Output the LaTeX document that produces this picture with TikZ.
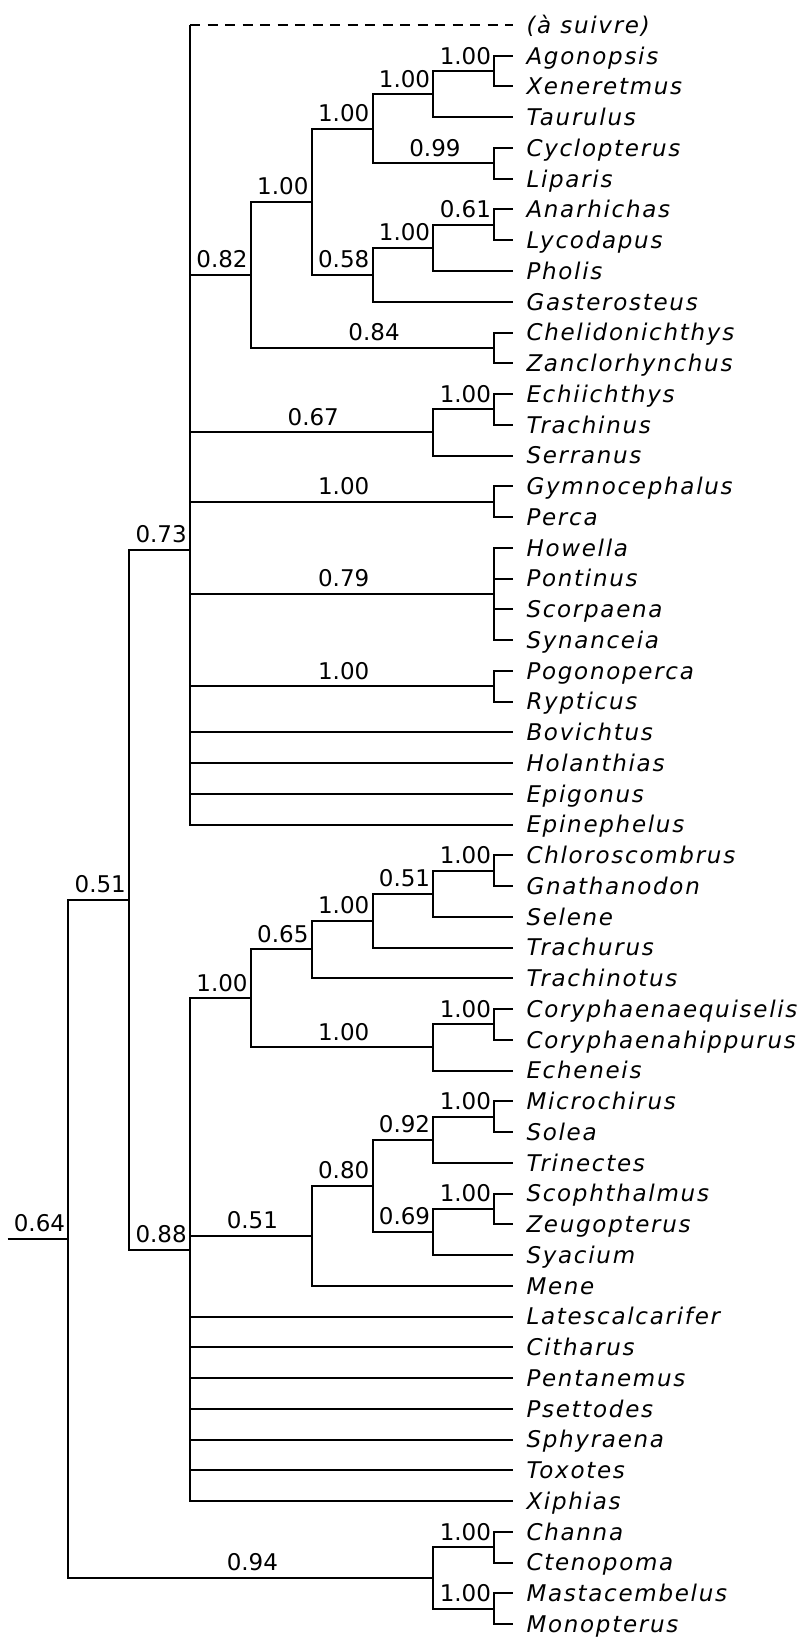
\documentclass[tikz,border=0pt]{standalone}
\usepackage{fontspec}
\setmainfont{DejaVu Sans}
\newfontfamily\leaffont[LetterSpace=7.5]{DejaVu Sans Oblique}
\newfontfamily\lblfont{DejaVu Sans}
\begin{document}
\begin{tikzpicture}[x=60.85pt, y=-30.75pt, line width=2pt,
  leaf/.style={anchor=west, inner xsep=12.5pt, inner ysep=0pt, text height=16.8pt, text depth=0pt,
    font=\leaffont\fontsize{23}{27}\selectfont},
  lbl/.style={anchor=base, inner sep=0pt, yshift=7pt, xshift=1.5pt,
    font=\lblfont\fontsize{23}{27}\selectfont},
  follow/.style={dash pattern=on 10pt off 7.5pt}]
\useasboundingbox (0pt,-5.75pt) rectangle (808pt,-1642.75pt);
\begin{scope}[xshift=7.5pt]
\def\tip{8.3073}
% leaves
\node[leaf] (suivre) at (\tip,1) {(à suivre)};
\node[leaf] (agonopsis) at (\tip,2) {Agonopsis};
\node[leaf] (xeneretmus) at (\tip,3) {Xeneretmus};
\node[leaf] (taurulus) at (\tip,4) {Taurulus};
\node[leaf] (cyclopterus) at (\tip,5) {Cyclopterus};
\node[leaf] (liparis) at (\tip,6) {Liparis};
\node[leaf] (anarhichas) at (\tip,7) {Anarhichas};
\node[leaf] (lycodapus) at (\tip,8) {Lycodapus};
\node[leaf] (pholis) at (\tip,9) {Pholis};
\node[leaf] (gasterosteus) at (\tip,10) {Gasterosteus};
\node[leaf] (chelidonichthys) at (\tip,11) {Chelidonichthys};
\node[leaf] (zanclorhynchus) at (\tip,12) {Zanclorhynchus};
\node[leaf] (echiichthys) at (\tip,13) {Echiichthys};
\node[leaf] (trachinus) at (\tip,14) {Trachinus};
\node[leaf] (serranus) at (\tip,15) {Serranus};
\node[leaf] (gymnocephalus) at (\tip,16) {Gymnocephalus};
\node[leaf] (perca) at (\tip,17) {Perca};
\node[leaf] (howella) at (\tip,18) {Howella};
\node[leaf] (pontinus) at (\tip,19) {Pontinus};
\node[leaf] (scorpaena) at (\tip,20) {Scorpaena};
\node[leaf] (synanceia) at (\tip,21) {Synanceia};
\node[leaf] (pogonoperca) at (\tip,22) {Pogonoperca};
\node[leaf] (rypticus) at (\tip,23) {Rypticus};
\node[leaf] (bovichtus) at (\tip,24) {Bovichtus};
\node[leaf] (holanthias) at (\tip,25) {Holanthias};
\node[leaf] (epigonus) at (\tip,26) {Epigonus};
\node[leaf] (epinephelus) at (\tip,27) {Epinephelus};
\node[leaf] (chloroscombrus) at (\tip,28) {Chloroscombrus};
\node[leaf] (gnathanodon) at (\tip,29) {Gnathanodon};
\node[leaf] (selene) at (\tip,30) {Selene};
\node[leaf] (trachurus) at (\tip,31) {Trachurus};
\node[leaf] (trachinotus) at (\tip,32) {Trachinotus};
\node[leaf] (coryeq) at (\tip,33) {Coryphaenaequiselis};
\node[leaf] (coryhi) at (\tip,34) {Coryphaenahippurus};
\node[leaf] (echeneis) at (\tip,35) {Echeneis};
\node[leaf] (microchirus) at (\tip,36) {Microchirus};
\node[leaf] (solea) at (\tip,37) {Solea};
\node[leaf] (trinectes) at (\tip,38) {Trinectes};
\node[leaf] (scophthalmus) at (\tip,39) {Scophthalmus};
\node[leaf] (zeugopterus) at (\tip,40) {Zeugopterus};
\node[leaf] (syacium) at (\tip,41) {Syacium};
\node[leaf] (mene) at (\tip,42) {Mene};
\node[leaf] (latescalcarifer) at (\tip,43) {Latescalcarifer};
\node[leaf] (citharus) at (\tip,44) {Citharus};
\node[leaf] (pentanemus) at (\tip,45) {Pentanemus};
\node[leaf] (psettodes) at (\tip,46) {Psettodes};
\node[leaf] (sphyraena) at (\tip,47) {Sphyraena};
\node[leaf] (toxotes) at (\tip,48) {Toxotes};
\node[leaf] (xiphias) at (\tip,49) {Xiphias};
\node[leaf] (channa) at (\tip,50) {Channa};
\node[leaf] (ctenopoma) at (\tip,51) {Ctenopoma};
\node[leaf] (mastacembelus) at (\tip,52) {Mastacembelus};
\node[leaf] (monopterus) at (\tip,53) {Monopterus};
% internal nodes
\coordinate (root0) at (0,40.47265625);
\coordinate (n064) at (1,40.47265625);
\coordinate (n051) at (2,29.4453125);
\coordinate (n073) at (3,18.0625);
\coordinate (n082) at (4,9.125);
\coordinate (n100a) at (5,6.75);
\coordinate (n100b) at (6,4.375);
\coordinate (n100c) at (7,3.25);
\coordinate (n100d) at (8,2.5);
\coordinate (n099) at (8,5.5);
\coordinate (n058) at (6,9.125);
\coordinate (n100e) at (7,8.25);
\coordinate (n061) at (8,7.5);
\coordinate (n084) at (8,11.5);
\coordinate (n067) at (7,14.25);
\coordinate (n100f) at (8,13.5);
\coordinate (n100g) at (8,16.5);
\coordinate (n079) at (8,19.5);
\coordinate (n100h) at (8,22.5);
\coordinate (n088) at (3,40.828125);
\coordinate (n100i) at (4,32.65625);
\coordinate (n065) at (5,31.0625);
\coordinate (n100j) at (6,30.125);
\coordinate (n051a) at (7,29.25);
\coordinate (n100k) at (8,28.5);
\coordinate (n100l) at (7,34.25);
\coordinate (n100m) at (8,33.5);
\coordinate (n051b) at (5,40.375);
\coordinate (n080) at (6,38.75);
\coordinate (n092) at (7,37.25);
\coordinate (n100n) at (8,36.5);
\coordinate (n069) at (7,40.25);
\coordinate (n100o) at (8,39.5);
\coordinate (n094) at (7,51.5);
\coordinate (n100p) at (8,50.5);
\coordinate (n100q) at (8,52.5);
% edges
\draw (root0) -- (n064) node[lbl,midway] {0.64};
\draw (n064) |- (n051) node[lbl,pos=0.75] {0.51};
\draw (n064) |- (n094) node[lbl,pos=0.75] {0.94};
\draw (n051) |- (n073) node[lbl,pos=0.75] {0.73};
\draw (n051) |- (n088) node[lbl,pos=0.75] {0.88};
% 0.73 clade
\draw (n073) -- (n073 |- suivre.west);
\draw[follow] (n073 |- suivre.west) -- (suivre.west);
\draw (n073) |- (n082) node[lbl,pos=0.75] {0.82};
\draw (n073) |- (n067) node[lbl,pos=0.75] {0.67};
\draw (n073) |- (n100g) node[lbl,pos=0.75] {1.00};
\draw (n073) |- (n079) node[lbl,pos=0.75] {0.79};
\draw (n073) |- (n100h) node[lbl,pos=0.75] {1.00};
\draw (n073) |- (bovichtus.west);
\draw (n073) |- (holanthias.west);
\draw (n073) |- (epigonus.west);
\draw (n073) |- (epinephelus.west);
\draw (n082) |- (n100a) node[lbl,pos=0.75] {1.00};
\draw (n082) |- (n084) node[lbl,pos=0.75] {0.84};
\draw (n100a) |- (n100b) node[lbl,pos=0.75] {1.00};
\draw (n100a) |- (n058) node[lbl,pos=0.75] {0.58};
\draw (n100b) |- (n100c) node[lbl,pos=0.75] {1.00};
\draw (n100b) |- (n099) node[lbl,pos=0.75] {0.99};
\draw (n100c) |- (n100d) node[lbl,pos=0.75] {1.00};
\draw (n100c) |- (taurulus.west);
\draw (n100d) |- (agonopsis.west);
\draw (n100d) |- (xeneretmus.west);
\draw (n099) |- (cyclopterus.west);
\draw (n099) |- (liparis.west);
\draw (n058) |- (n100e) node[lbl,pos=0.75] {1.00};
\draw (n058) |- (gasterosteus.west);
\draw (n100e) |- (n061) node[lbl,pos=0.75] {0.61};
\draw (n100e) |- (pholis.west);
\draw (n061) |- (anarhichas.west);
\draw (n061) |- (lycodapus.west);
\draw (n084) |- (chelidonichthys.west);
\draw (n084) |- (zanclorhynchus.west);
\draw (n067) |- (n100f) node[lbl,pos=0.75] {1.00};
\draw (n067) |- (serranus.west);
\draw (n100f) |- (echiichthys.west);
\draw (n100f) |- (trachinus.west);
\draw (n100g) |- (gymnocephalus.west);
\draw (n100g) |- (perca.west);
\draw (n079) |- (howella.west);
\draw (n079) |- (pontinus.west);
\draw (n079) |- (scorpaena.west);
\draw (n079) |- (synanceia.west);
\draw (n100h) |- (pogonoperca.west);
\draw (n100h) |- (rypticus.west);
% 0.88 clade
\draw (n088) |- (n100i) node[lbl,pos=0.75] {1.00};
\draw (n088) |- (n051b) node[lbl,pos=0.75] {0.51};
\draw (n088) |- (latescalcarifer.west);
\draw (n088) |- (citharus.west);
\draw (n088) |- (pentanemus.west);
\draw (n088) |- (psettodes.west);
\draw (n088) |- (sphyraena.west);
\draw (n088) |- (toxotes.west);
\draw (n088) |- (xiphias.west);
\draw (n100i) |- (n065) node[lbl,pos=0.75] {0.65};
\draw (n100i) |- (n100l) node[lbl,pos=0.75] {1.00};
\draw (n065) |- (n100j) node[lbl,pos=0.75] {1.00};
\draw (n065) |- (trachinotus.west);
\draw (n100j) |- (n051a) node[lbl,pos=0.75] {0.51};
\draw (n100j) |- (trachurus.west);
\draw (n051a) |- (n100k) node[lbl,pos=0.75] {1.00};
\draw (n051a) |- (selene.west);
\draw (n100k) |- (chloroscombrus.west);
\draw (n100k) |- (gnathanodon.west);
\draw (n100l) |- (n100m) node[lbl,pos=0.75] {1.00};
\draw (n100l) |- (echeneis.west);
\draw (n100m) |- (coryeq.west);
\draw (n100m) |- (coryhi.west);
\draw (n051b) |- (n080) node[lbl,pos=0.75] {0.80};
\draw (n051b) |- (mene.west);
\draw (n080) |- (n092) node[lbl,pos=0.75] {0.92};
\draw (n080) |- (n069) node[lbl,pos=0.75] {0.69};
\draw (n092) |- (n100n) node[lbl,pos=0.75] {1.00};
\draw (n092) |- (trinectes.west);
\draw (n100n) |- (microchirus.west);
\draw (n100n) |- (solea.west);
\draw (n069) |- (n100o) node[lbl,pos=0.75] {1.00};
\draw (n069) |- (syacium.west);
\draw (n100o) |- (scophthalmus.west);
\draw (n100o) |- (zeugopterus.west);
% 0.94 clade
\draw (n094) |- (n100p) node[lbl,pos=0.75] {1.00};
\draw (n094) |- (n100q) node[lbl,pos=0.75] {1.00};
\draw (n100p) |- (channa.west);
\draw (n100p) |- (ctenopoma.west);
\draw (n100q) |- (mastacembelus.west);
\draw (n100q) |- (monopterus.west);
\end{scope}
\end{tikzpicture}
\end{document}
